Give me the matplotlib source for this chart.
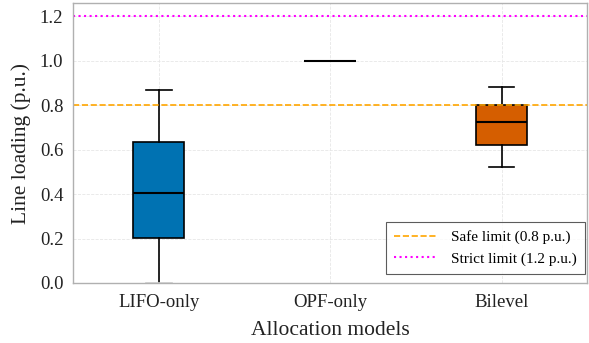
import matplotlib
matplotlib.use("Agg")
import matplotlib.pyplot as plt

plt.rcParams['font.family'] = ['Liberation Serif', 'DejaVu Serif']

models = ["LIFO-only", "OPF-only", "Bilevel"]
# box statistics: lower whisker, q1, median, q3, upper whisker
whislo = [0.0, 1.0, 0.52]
q1 = [0.204, 1.0, 0.622]
med = [0.407, 1.0, 0.725]
q3 = [0.636, 1.0, 0.803]
whishi = [0.867, 1.0, 0.88]
colors = ["#0072B2", "#0072B2", "#D55E00"]
safe_limit = 0.8
strict_limit = 1.2

fig = plt.figure(figsize=(5.89, 3.43), dpi=100)
ax = fig.add_axes([0.124, 0.175, 0.873, 0.815])

stats = []
for i, name in enumerate(models):
    stats.append(dict(label=name, whislo=whislo[i], q1=q1[i], med=med[i],
                      q3=q3[i], whishi=whishi[i], fliers=[]))

bp = ax.bxp(stats, positions=[1, 2, 3], widths=0.3, patch_artist=True,
            showfliers=False,
            medianprops=dict(color="black", linewidth=1.5),
            whiskerprops=dict(color="black", linewidth=1.2),
            capprops=dict(color="black", linewidth=1.2),
            boxprops=dict(edgecolor="black", linewidth=1.2))
for patch, c in zip(bp["boxes"], colors):
    patch.set_facecolor(c)
# caps sitting on the x axis are hidden beneath the spine
for cap in bp["caps"]:
    if cap.get_ydata()[0] == 0.0:
        cap.set_color("#d0d0d0")

ax.axhline(safe_limit, color="#FFA500", linestyle="--", linewidth=1.2,
           label="Safe limit (0.8 p.u.)")
ax.axhline(strict_limit, color="magenta", linestyle=":", linewidth=1.5,
           label="Strict limit (1.2 p.u.)")

ax.set_xlim(0.5, 3.5)
ax.set_ylim(0, 1.258)
ax.set_yticks([0.0, 0.2, 0.4, 0.6, 0.8, 1.0, 1.2])
ax.set_yticklabels(["0.0", "0.2", "0.4", "0.6", "0.8", "1.0", "1.2"])
ax.set_xticks([1, 2, 3])
ax.set_xticklabels(models)
ax.tick_params(axis="both", length=0, labelsize=13.5, colors="#222222")
ax.tick_params(axis="x", pad=8)
ax.tick_params(axis="y", pad=7)
ax.grid(True, linestyle="--", color="#e6e6e6", linewidth=0.6)
ax.set_axisbelow(True)
for s in ax.spines.values():
    s.set_color("#b0b0b0")
    s.set_linewidth(1.0)

ax.set_ylabel("Line loading (p.u.)", fontsize=15.5, color="#222222", labelpad=6)
ax.set_xlabel("Allocation models", fontsize=15.5, color="#222222", labelpad=7)

leg = ax.legend(loc="lower right", fontsize=11, frameon=True, fancybox=False,
                edgecolor="#333333", handlelength=2.8, handletextpad=0.9,
                borderpad=0.55, borderaxespad=0.0,
                bbox_to_anchor=(0.996, 0.032))
leg.get_frame().set_linewidth(0.8)

fig.savefig("out.png", dpi=100)
